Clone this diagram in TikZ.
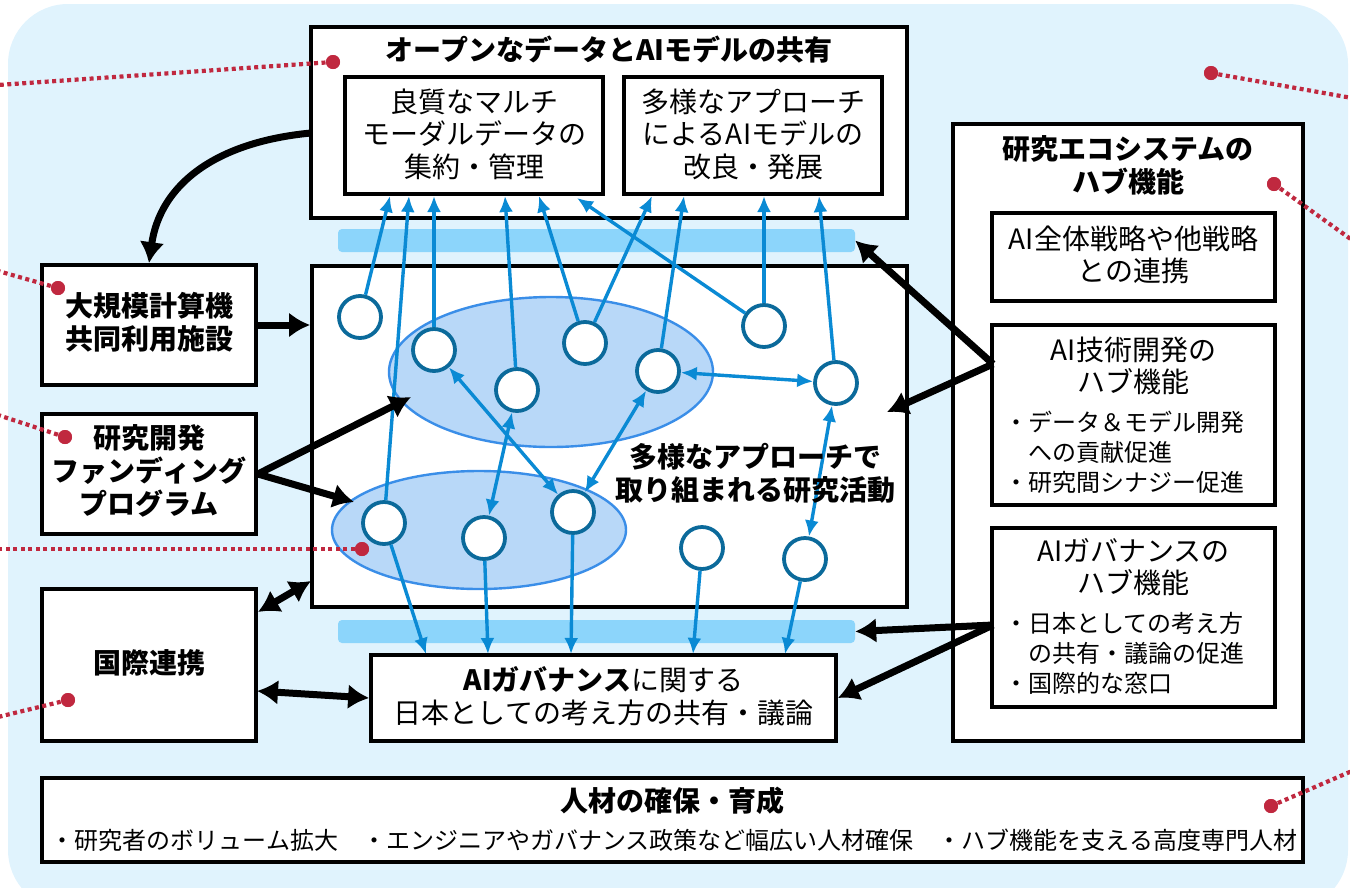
\documentclass[tikz,border=0pt]{standalone}
\usepackage{fontspec}
\setmainfont{Noto Sans CJK JP}
\usetikzlibrary{arrows.meta,shapes.geometric,calc}
\definecolor{bgblue}{HTML}{E0F3FD}
\definecolor{barblue}{HTML}{8CD5FB}
\definecolor{ellfill}{HTML}{B8D8F8}
\definecolor{elldraw}{HTML}{3A8EE8}
\definecolor{cdraw}{HTML}{0B6A9B}
\definecolor{arrblue}{HTML}{0A8AD4}
\definecolor{dotred}{HTML}{C0283F}
\begin{document}
\begin{tikzpicture}[x=1pt,y=-1pt,
 box/.style={rectangle,draw=black,line width=3.7pt,fill=white,inner sep=0pt},
 bar/.style={rectangle,fill=barblue,rounded corners=4pt,inner sep=0pt,minimum width=517pt,minimum height=23pt},
 ell/.style={ellipse,fill=ellfill,draw=elldraw,line width=2.4pt,inner sep=0pt},
 cnode/.style={circle,fill=white,draw=cdraw,line width=3.8pt,minimum size=42pt,inner sep=0pt},
 barrow/.style={draw=arrblue,line width=3.4pt,-{Latex[length=16pt,width=14pt]}},
 bdouble/.style={draw=arrblue,line width=3.4pt,{Latex[length=16pt,width=14pt]}-{Latex[length=16pt,width=14pt]}},
 karrow/.style={draw=black,line width=7pt,-{Latex[length=21pt,width=25pt]}},
 kdouble/.style={draw=black,line width=7pt,{Latex[length=21pt,width=25pt]}-{Latex[length=21pt,width=25pt]}},
 leader/.style={draw=dotred,line width=4.2pt,dash pattern=on 4pt off 3.5pt},
 rdot/.style={circle,fill=dotred,minimum size=14pt,inner sep=0pt},
 ttl/.style={font=\fontsize{28}{33}\selectfont\bfseries,align=center,inner sep=0pt},
 txt/.style={font=\fontsize{28}{32.5}\selectfont,align=center,inner sep=0pt},
 blt/.style={font=\fontsize{24}{30}\selectfont,align=left,inner sep=0pt},
]
\useasboundingbox (0,0) rectangle (1350,887);
\fill[bgblue,rounded corners=60pt] (8,4) rectangle (1348,910);

% boxes
\node[box,minimum width=596pt,minimum height=191pt] (T) at (609,122.5) {};
\node[box,minimum width=258pt,minimum height=117pt] (T1) at (474,135.5) {};
\node[box,minimum width=258pt,minimum height=117pt] (T2) at (753,135.5) {};
\node[bar] (B1) at (596.5,240.5) {};
\node[box,minimum width=595pt,minimum height=341pt] (M) at (609.5,436.5) {};
\node[bar] (B2) at (596.5,631.5) {};
\node[box,minimum width=465pt,minimum height=86pt] (G) at (603.5,698) {};
\node[box,minimum width=214pt,minimum height=120pt] (K) at (149,325) {};
\node[box,minimum width=214pt,minimum height=120pt] (F) at (149,474) {};
\node[box,minimum width=214pt,minimum height=152pt] (I) at (149,665) {};
\node[box,minimum width=350pt,minimum height=617pt] (R) at (1128,432.5) {};
\node[box,minimum width=283pt,minimum height=88pt] (R1) at (1133.5,257) {};
\node[box,minimum width=283pt,minimum height=180pt] (R2) at (1133.5,415) {};
\node[box,minimum width=283pt,minimum height=179pt] (R3) at (1133.5,617.5) {};
\node[box,minimum width=1261pt,minimum height=84pt] (P) at (672.5,820) {};

% ellipses
\node[ell,minimum width=324pt,minimum height=150pt] (E1) at (551,372) {};
\node[ell,minimum width=294pt,minimum height=118pt] (E2) at (479,530) {};

% circles
\node[cnode] (c1) at (360,317) {};
\node[cnode] (c2) at (434,350) {};
\node[cnode] (c3) at (517,390) {};
\node[cnode] (c4) at (585,343) {};
\node[cnode] (c5) at (658,371) {};
\node[cnode] (c6) at (764,326) {};
\node[cnode] (c7) at (836,383) {};
\node[cnode] (c8) at (384,523) {};
\node[cnode] (c9) at (484,538) {};
\node[cnode] (c10) at (573,512) {};
\node[cnode] (c11) at (702,548) {};
\node[cnode] (c12) at (805,559) {};

% arrow tip coordinates
\coordinate (t1) at (390,196);
\coordinate (t2) at (409,196);
\coordinate (t3) at (434,196);
\coordinate (t4) at (505,196);
\coordinate (t5) at (539,196);
\coordinate (t6) at (577,198);
\coordinate (t7) at (652,196);
\coordinate (t8) at (684,196);
\coordinate (t9) at (764,196);
\coordinate (t10) at (819,196);
\coordinate (u1) at (426,654);
\coordinate (u2) at (488,654);
\coordinate (u3) at (571,654);
\coordinate (u4) at (693,654);
\coordinate (u5) at (785,654);

% blue arrows
\draw[barrow] (c1) -- (t1);
\draw[barrow] (c8) -- (t2);
\draw[barrow] (c2) -- (t3);
\draw[barrow] (c3) -- (t4);
\draw[barrow] (c4) -- (t5);
\draw[barrow] (c6) -- (t6);
\draw[barrow] (c4) -- (t7);
\draw[barrow] (c5) -- (t8);
\draw[barrow] (c6) -- (t9);
\draw[barrow] (c7) -- (t10);
\draw[barrow] (c8) -- (u1);
\draw[barrow] (c9) -- (u2);
\draw[barrow] (c10) -- (u3);
\draw[barrow] (c11) -- (u4);
\draw[barrow] (c12) -- (u5);
\draw[bdouble] (c2) -- (c10);
\draw[bdouble] (c3) -- (c9);
\draw[bdouble] (c5) -- (c10);
\draw[bdouble] (c5) -- (c7);
\draw[bdouble] (c7) -- (c12);

% black arrows
\coordinate (k1s) at (311,133);
\coordinate (e1) at (411,397);
\coordinate (e2) at (354,502);
\coordinate (i1) at (258,612);
\coordinate (m0) at (311,581);
\coordinate (i2) at (257,691);
\coordinate (h1) at (993,364);
\coordinate (m1) at (887,412);
\coordinate (h2) at (993,625);
\draw[karrow] (k1s) .. controls (215,142) and (160,185) .. (K.north);
\draw[karrow] (K.east) -- (K.east -| M.west);
\draw[karrow] (F.east) -- (e1);
\draw[karrow] (F.east) -- (e2);
\draw[kdouble] (i1) -- (m0);
\draw[kdouble] (i2) -- (G.west);
\draw[karrow] (h1) -- (B1.east);
\draw[karrow] (h1) -- (m1);
\draw[karrow] (h2) -- (B2.east);
\draw[karrow] (h2) -- (G.east);

% texts
\node[ttl] (Tt) at (609,50) {オープンなデータとAIモデルの共有};
\node[txt] (T1t) at (474,134) {良質なマルチ\\モーダルデータの\\集約・管理};
\node[txt] (T2t) at (753,134) {多様なアプローチ\\によるAIモデルの\\改良・発展};
\node[ttl] (Mt) at (755,473) {多様なアプローチで\\取り組まれる研究活動};
\node[txt] (Gt) at (603.5,696) {{\bfseries AIガバナンス}に関する\\日本としての考え方の共有・議論};
\node[ttl] (Kt) at (149,322) {大規模計算機\\共同利用施設};
\node[ttl] (Ft) at (149,471) {研究開発\\ファンディング\\プログラム};
\node[ttl] (It) at (149,663) {国際連携};
\node[ttl] (Rt) at (1128,165) {研究エコシステムの\\ハブ機能};
\node[txt] (R1t) at (1133.5,255) {AI全体戦略や他戦略\\との連携};
\node[txt] (R2t) at (1133.5,366) {AI技術開発の\\ハブ機能};
\node[blt,anchor=west] (R2b) at (1004,452) {・データ＆モデル開発\\\hspace*{1em}への貢献促進\\・研究間シナジー促進};
\node[txt] (R3t) at (1133.5,567) {AIガバナンスの\\ハブ機能};
\node[blt,anchor=west] (R3b) at (1004,653) {・日本としての考え方\\\hspace*{1em}の共有・議論の促進\\・国際的な窓口};
\node[ttl] (Pt) at (672.5,801) {人材の確保・育成};
\node[font=\fontsize{24}{30}\selectfont,inner sep=0pt] (Pb) at (674,840) {・研究者のボリューム拡大\hspace{24pt}・エンジニアやガバナンス政策など幅広い人材確保\hspace{24pt}・ハブ機能を支える高度専門人材};

% red leaders
\node[rdot] (rd1) at (333,62) {};
\node[rdot] (rd2) at (58,288) {};
\node[rdot] (rd3) at (65,437) {};
\node[rdot] (rd4) at (362,549) {};
\node[rdot] (rd5) at (68,700) {};
\node[rdot] (rd6) at (1211,73) {};
\node[rdot] (rd7) at (1274,184) {};
\node[rdot] (rd8) at (1271,806) {};
\coordinate (L1) at (-2,85);
\coordinate (L2) at (-2,271);
\coordinate (L3) at (-2,415);
\coordinate (L4) at (-2,549);
\coordinate (L5) at (-2,717);
\coordinate (L6) at (1352,98);
\coordinate (L7) at (1352,240);
\coordinate (L8) at (1352,771);
\draw[leader] (rd1.center) -- (L1);
\draw[leader] (rd2.center) -- (L2);
\draw[leader] (rd3.center) -- (L3);
\draw[leader] (rd4.center) -- (L4);
\draw[leader] (rd5.center) -- (L5);
\draw[leader] (rd6.center) -- (L6);
\draw[leader] (rd7.center) -- (L7);
\draw[leader] (rd8.center) -- (L8);
\node[rdot] at (rd1) {};
\node[rdot] at (rd2) {};
\node[rdot] at (rd3) {};
\node[rdot] at (rd4) {};
\node[rdot] at (rd5) {};
\node[rdot] at (rd6) {};
\node[rdot] at (rd7) {};
\node[rdot] at (rd8) {};
\end{tikzpicture}
\end{document}
